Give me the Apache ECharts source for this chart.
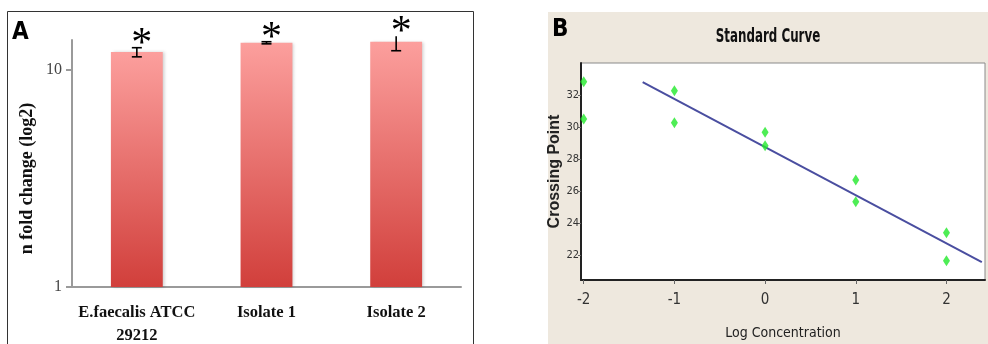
<!DOCTYPE html>
<html>
<head>
<meta charset="utf-8">
<script src="https://cdn.jsdelivr.net/npm/echarts@6/dist/echarts.min.js"></script>
<style>
  html, body { margin: 0; padding: 0; background: #fff; }
  #main { width: 988px; height: 344px; }
</style>
</head>
<body>
<div id="main"></div>
<script>
// panel A - fold change per strain (log axis)
var categories = ['E.faecalis ATCC\n29212', 'Isolate 1', 'Isolate 2'];
var foldChange = [12.1, 13.36, 13.5];
var errLow = [11.5, 13.2, 12.27];
var errHigh = [12.67, 13.5, 14.3];
var capHigh = [1, 1, 0];
var yTicksA = [1, 10];

// panel B - standard curve
var logConc = [-2, -2, -1, -1, 0, 0, 1, 1, 2, 2];
var crossingPoint = [32.83, 30.5, 32.27, 30.27, 29.67, 28.83, 26.69, 25.33, 23.39, 21.64];
var fitX = [-1.35, 2.39];
var fitY = [32.81, 21.56];
var xTicksB = [-2, -1, 0, 1, 2];
var yTicksB = [22, 24, 26, 28, 30, 32];

var serif = '"Liberation Serif", "DejaVu Serif", serif';
var narrow = '"Liberation Sans Narrow", "DejaVu Sans Condensed", "Liberation Sans", sans-serif';

var errData = categories.map(function (c, i) {
  return [i, errLow[i], errHigh[i], capHigh[i], foldChange[i]];
});
var points = logConc.map(function (x, i) { return [x, crossingPoint[i]]; });
var fitLine = fitX.map(function (x, i) { return [x, fitY[i]]; });

function renderError(params, api) {
  var i = api.value(0);
  var lo = api.coord([i, api.value(1)]);
  var hi = api.coord([i, api.value(2)]);
  var top = api.coord([i, api.value(4)]);
  var w = 5;
  var st = { stroke: '#000', lineWidth: 1.6 };
  var kids = [
    { type: 'line', shape: { x1: lo[0], y1: lo[1], x2: hi[0], y2: hi[1] }, style: st },
    { type: 'line', shape: { x1: lo[0] - w, y1: lo[1], x2: lo[0] + w, y2: lo[1] }, style: st }
  ];
  if (api.value(3)) {
    kids.push({ type: 'line', shape: { x1: hi[0] - w, y1: hi[1], x2: hi[0] + w, y2: hi[1] }, style: st });
  }
  // significance star above each bar
  kids.push({
    type: 'text',
    x: hi[0] + 5,
    y: Math.min(hi[1], top[1]) - 3,
    style: { text: '*', font: '42px ' + serif, fill: '#000', align: 'center', verticalAlign: 'middle' }
  });
  return { type: 'group', children: kids };
}

var chart = echarts.init(document.getElementById('main'));

chart.setOption({
  animation: false,
  graphic: [
    { type: 'rect', z: -1, shape: { x: 7.5, y: 11.5, width: 466, height: 400 },
      style: { fill: '#fff', stroke: '#333', lineWidth: 1 } },
    { type: 'rect', z: -1, shape: { x: 548, y: 12, width: 440, height: 332 },
      style: { fill: '#EEE8DE' } },
    { type: 'text', x: 12, y: 21, style: { text: 'A', font: 'bold 24px ' + narrow, fill: '#000' } },
    { type: 'text', x: 552, y: 18, style: { text: 'B', font: 'bold 24px ' + narrow, fill: '#000' } },
    { type: 'text', x: 768, y: 37, scaleX: 0.66, style: { text: 'Standard Curve', font: 'bold 20px ' + narrow,
      fill: '#111', align: 'center', verticalAlign: 'middle' } }
  ],
  grid: [
    { left: 72, top: 40, width: 389, height: 247, outerBoundsMode: 'none', containLabel: false },
    { left: 581, top: 63, width: 404, height: 217, outerBoundsMode: 'none', containLabel: false, show: true,
      backgroundColor: '#fff', borderColor: '#8a8a8a', borderWidth: 1 }
  ],
  xAxis: [
    {
      gridIndex: 0,
      type: 'category',
      data: categories,
      axisLine: { lineStyle: { color: '#9a9a9a', width: 2 } },
      axisTick: { length: 6, lineStyle: { color: '#9a9a9a', width: 2 } },
      axisLabel: { interval: 0, hideOverlap: false, color: '#111', fontFamily: serif, fontWeight: 'bold',
        fontSize: 16.5, lineHeight: 23, margin: 14 }
    },
    {
      gridIndex: 1,
      type: 'value',
      min: -2.03,
      max: 2.425,
      name: 'Log Concentration',
      nameLocation: 'middle',
      nameGap: 46,
      nameTextStyle: { fontFamily: narrow, fontSize: 14, color: '#222' },
      splitLine: { show: false },
      axisLine: { onZero: false, lineStyle: { color: '#222', width: 2 } },
      axisTick: { length: 4, customValues: xTicksB, lineStyle: { color: '#666' } },
      axisLabel: { customValues: xTicksB, fontFamily: narrow, fontSize: 15, color: '#333', margin: 13 }
    }
  ],
  yAxis: [
    {
      gridIndex: 0,
      type: 'log',
      logBase: 10,
      min: 1,
      max: 13.75,
      name: 'n fold change (log2)',
      nameLocation: 'middle',
      nameGap: 36,
      nameTextStyle: { fontFamily: serif, fontWeight: 'bold', fontSize: 18, color: '#111',
        padding: [0, 30, 0, 0] },
      splitLine: { show: false },
      axisLine: { show: true, lineStyle: { color: '#9a9a9a', width: 2 } },
      axisTick: { show: true, length: 6, customValues: yTicksA, lineStyle: { color: '#9a9a9a', width: 2 } },
      axisLabel: { customValues: yTicksA, fontFamily: serif, fontSize: 16, color: '#444', margin: 10 }
    },
    {
      gridIndex: 1,
      type: 'value',
      min: 20.44,
      max: 34,
      name: 'Crossing Point',
      nameLocation: 'middle',
      nameGap: 13,
      nameTextStyle: { fontFamily: '"Liberation Sans", Arial, sans-serif', fontWeight: 'bold',
        fontSize: 16, color: '#222' },
      splitLine: { show: false },
      axisLine: { show: true, onZero: false, lineStyle: { color: '#222', width: 2 } },
      axisTick: { show: true, length: 3, customValues: yTicksB, lineStyle: { color: '#666' } },
      axisLabel: { customValues: yTicksB, fontFamily: narrow, fontSize: 11, color: '#333', margin: 2 }
    }
  ],
  series: [
    {
      type: 'bar',
      xAxisIndex: 0,
      yAxisIndex: 0,
      data: foldChange,
      barWidth: '40%',
      itemStyle: {
        color: new echarts.graphic.LinearGradient(0, 0, 0, 1, [
          { offset: 0, color: '#FC9F9D' },
          { offset: 1, color: '#D13F3B' }
        ]),
        shadowColor: 'rgba(0,0,0,0.18)',
        shadowBlur: 3,
        shadowOffsetX: 2
      }
    },
    {
      type: 'custom',
      xAxisIndex: 0,
      yAxisIndex: 0,
      data: errData,
      clip: false,
      z: 5,
      renderItem: renderError
    },
    {
      type: 'line',
      xAxisIndex: 1,
      yAxisIndex: 1,
      data: fitLine,
      symbol: 'none',
      lineStyle: { color: '#4A4EA0', width: 2 }
    },
    {
      type: 'scatter',
      xAxisIndex: 1,
      yAxisIndex: 1,
      data: points,
      symbol: 'diamond',
      symbolSize: [7, 11],
      itemStyle: { color: '#22E82A' },
      z: 4
    }
  ]
});
</script>
</body>
</html>
